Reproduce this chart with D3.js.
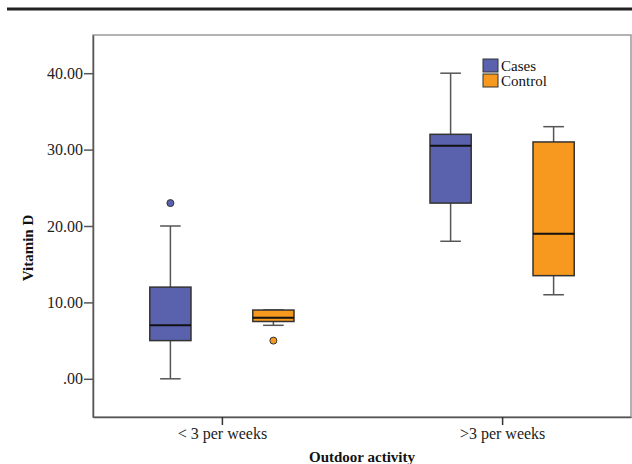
<!DOCTYPE html>
<html>
<head>
<meta charset="utf-8">
<script src="https://cdn.jsdelivr.net/npm/d3@7"></script>
<style>
  body { margin: 0; background: #fff; }
  svg { display: block; font-family: "Liberation Serif", "Times New Roman", serif; }
</style>
</head>
<body>
<div id="chart"></div>
<script>
// groups on the x axis and the two series
const groups = ["< 3 per weeks", ">3 per weeks"];
const seriesNames = ["Cases", "Control"];
const seriesColors = ["#5a62ae", "#f7981f"];

// [lower whisker, Q1, median, Q3, upper whisker] per group
const casesStats = [[0, 5, 7, 12, 20], [18, 23, 30.5, 32, 40]];
const controlStats = [[7, 7.5, 8, 9, 9], [11, 13.5, 19, 31, 33]];
const casesOutliers = [[23], []];
const controlOutliers = [[5], []];

const yTicks = [0, 10, 20, 30, 40];

const width = 632, height = 464;
const margin = { top: 35, right: 1, bottom: 47, left: 93 };

const svg = d3.select("#chart").append("svg")
  .attr("width", width)
  .attr("height", height);

// heavy rule across the top
svg.append("line")
  .attr("x1", 7).attr("x2", width)
  .attr("y1", 9).attr("y2", 9)
  .attr("stroke", "#222").attr("stroke-width", 3);

const x = d3.scalePoint()
  .domain(groups)
  .range([margin.left, width - margin.right])
  .padding(0.46);

const inner = d3.scaleBand()
  .domain(seriesNames)
  .range([-103, 103])
  .paddingInner(0.6)
  .paddingOuter(0.3);

const y = d3.scaleLinear()
  .domain([-5, 45])
  .range([height - margin.bottom, margin.top]);

// plot frame
svg.append("rect")
  .attr("x", margin.left).attr("y", margin.top)
  .attr("width", width - margin.right - margin.left)
  .attr("height", height - margin.bottom - margin.top)
  .attr("fill", "none").attr("stroke", "#999").attr("stroke-width", 1.5);

const fmt = v => v === 0 ? ".00" : d3.format(".2f")(v);

const yAxis = svg.append("g")
  .attr("transform", `translate(${margin.left},0)`)
  .call(d3.axisLeft(y).tickValues(yTicks).tickFormat(fmt)
    .tickSizeInner(9).tickSizeOuter(0).tickPadding(1));
yAxis.select(".domain").attr("stroke", "#555").attr("stroke-width", 1.5);
yAxis.selectAll(".tick line").attr("stroke", "#555").attr("stroke-width", 1.5);
yAxis.selectAll("text").attr("font-size", 16).attr("fill", "#222").attr("font-family", "Liberation Serif");

const xAxis = svg.append("g")
  .attr("transform", `translate(0,${height - margin.bottom})`)
  .call(d3.axisBottom(x).tickSizeInner(8).tickSizeOuter(0).tickPadding(3));
xAxis.select(".domain").attr("stroke", "#555").attr("stroke-width", 1.5);
xAxis.selectAll(".tick line").attr("stroke", "#333").attr("stroke-width", 1.5);
xAxis.selectAll("text").attr("font-size", 16).attr("fill", "#222").attr("font-family", "Liberation Serif");

// axis titles
svg.append("text")
  .attr("x", (margin.left + width - margin.right) / 2)
  .attr("y", 462)
  .attr("text-anchor", "middle")
  .attr("font-size", 15).attr("font-weight", "bold").attr("fill", "#111")
  .text("Outdoor activity");

svg.append("text")
  .attr("transform", `translate(33,${y(20) + 22}) rotate(-90)`)
  .attr("text-anchor", "middle")
  .attr("font-size", 15).attr("font-weight", "bold").attr("fill", "#111")
  .text("Vitamin D");

// boxes
const allStats = [casesStats, controlStats];
const allOutliers = [casesOutliers, controlOutliers];
const bw = inner.bandwidth();

seriesNames.forEach((s, si) => {
  groups.forEach((g, gi) => {
    const [lo, q1, med, q3, hi] = allStats[si][gi];
    const x0 = x(g) + inner(s);
    const cx = x0 + bw / 2;
    const grp = svg.append("g");

    // whiskers
    grp.append("line")
      .attr("x1", cx).attr("x2", cx)
      .attr("y1", y(hi)).attr("y2", y(q3))
      .attr("stroke", "#555").attr("stroke-width", 1.5);
    grp.append("line")
      .attr("x1", cx).attr("x2", cx)
      .attr("y1", y(q1)).attr("y2", y(lo))
      .attr("stroke", "#555").attr("stroke-width", 1.5);
    [lo, hi].forEach(v => {
      grp.append("line")
        .attr("x1", cx - bw / 4).attr("x2", cx + bw / 4)
        .attr("y1", y(v)).attr("y2", y(v))
        .attr("stroke", "#555").attr("stroke-width", 1.5);
    });

    grp.append("rect")
      .attr("x", x0).attr("y", y(q3))
      .attr("width", bw).attr("height", y(q1) - y(q3))
      .attr("fill", seriesColors[si])
      .attr("stroke", "#333").attr("stroke-width", 1.5);

    grp.append("line")
      .attr("x1", x0).attr("x2", x0 + bw)
      .attr("y1", y(med)).attr("y2", y(med))
      .attr("stroke", "#111").attr("stroke-width", 2);

    grp.selectAll("circle")
      .data(allOutliers[si][gi])
      .enter().append("circle")
      .attr("cx", cx).attr("cy", d => y(d))
      .attr("r", 3.5)
      .attr("fill", seriesColors[si])
      .attr("stroke", "#333").attr("stroke-width", 1);
  });
});

// legend
const legend = svg.append("g").attr("transform", "translate(483,59)");
seriesNames.forEach((s, i) => {
  legend.append("rect")
    .attr("x", 0).attr("y", i * 15)
    .attr("width", 15).attr("height", 13)
    .attr("fill", seriesColors[i])
    .attr("stroke", "#333").attr("stroke-width", 1);
  legend.append("text")
    .attr("x", 18).attr("y", i * 15 + 12)
    .attr("font-size", 15).attr("fill", "#111")
    .attr("font-family", "Liberation Serif")
    .text(s);
});
</script>
</body>
</html>
